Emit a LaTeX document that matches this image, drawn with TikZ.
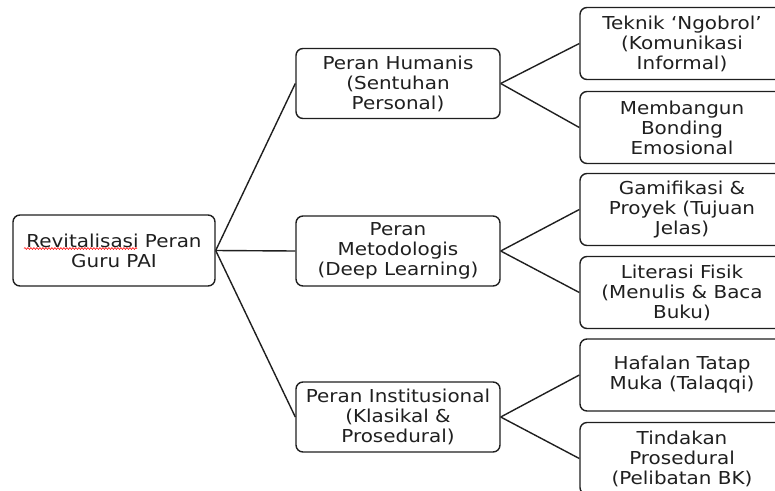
\documentclass[tikz,border=0pt]{standalone}
\usepackage{fontspec}
\setmainfont[FakeStretch=1.12]{DejaVu Sans}
\usetikzlibrary{decorations.pathmorphing}
\begin{document}
\begin{tikzpicture}[x=1pt,y=-1pt,
  box/.style={draw=black!88, line width=1.4pt, rounded corners=7pt, align=center,
    inner sep=0pt, text=black!88, font=\fontsize{17.8}{20}\selectfont},
  mbox/.style={box, minimum width=204pt, minimum height=70pt},
  rbox/.style={box, minimum width=204pt, minimum height=72pt},
  link/.style={draw=black!88, line width=1.4pt}]
\useasboundingbox (0,0) rectangle (775,490);
\clip (0,0) rectangle (775,490);
% root
\node[box, minimum width=202pt, minimum height=71pt] (root) at (114,250.5) {Revitalisasi Peran\\Guru PAI};
\draw[red, line width=0.6pt, decorate, decoration={snake, amplitude=0.9pt, segment length=3pt}] (24,248.5) -- (137,248.5);
% middle
\node[mbox] (hum) at (398,83.5) {Peran Humanis\\(Sentuhan\\Personal)};
\node[mbox] (met) at (398,251) {Peran\\Metodologis\\(Deep Learning)};
\node[mbox] (ins) at (398,417) {Peran Institusional\\(Klasikal \&\\Prosedural)};
% right
\node[rbox] (r1) at (682,43.5) {Teknik ‘Ngobrol’\\(Komunikasi\\Informal)};
\node[rbox] (r2) at (682,127.5) {Membangun\\Bonding\\Emosional};
\node[rbox] (r3) at (682,209.5) {Gamifikasi \&\\Proyek (Tujuan\\Jelas)};
\node[rbox] (r4) at (682,292.5) {Literasi Fisik\\(Menulis \& Baca\\Buku)};
\node[rbox] (r5) at (682,375) {Hafalan Tatap\\Muka (Talaqqi)};
\node[rbox] (r6) at (682,458.5) {Tindakan\\Prosedural\\(Pelibatan BK)};
% connectors
\draw[link] (root.east) -- (hum.west);
\draw[link] (root.east) -- (met.west);
\draw[link] (root.east) -- (ins.west);
\draw[link] (hum.east) -- (r1.west);
\draw[link] (hum.east) -- (r2.west);
\draw[link] (met.east) -- (r3.west);
\draw[link] (met.east) -- (r4.west);
\draw[link] (ins.east) -- (r5.west);
\draw[link] (ins.east) -- (r6.west);
\end{tikzpicture}
\end{document}
